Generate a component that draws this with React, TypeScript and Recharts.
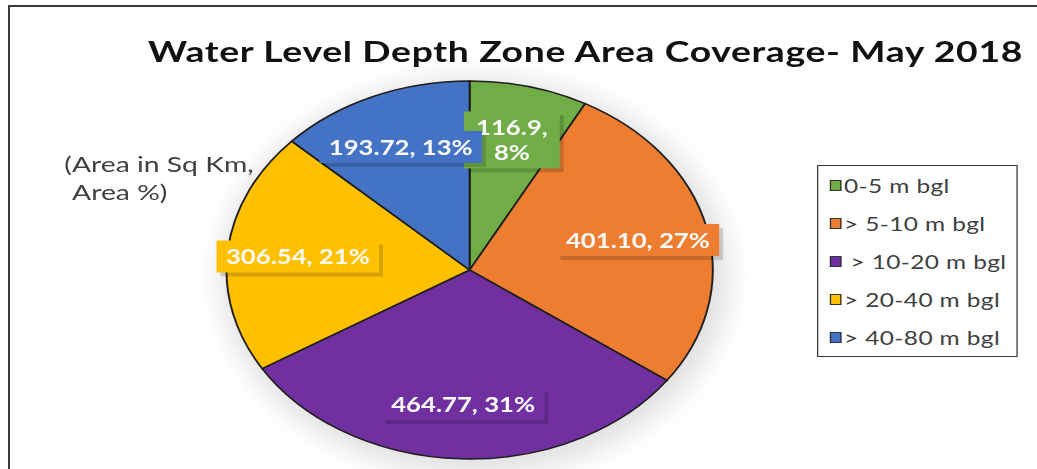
import React from "react";
import { PieChart, Pie, Legend } from "recharts";

// the source picture is stretched sideways, so the chart is drawn narrow and scaled back out
const STRETCH = 1037 / 806;
const RADIAN = Math.PI / 180;

const categories = [
  "0-5 m bgl",
  "> 5-10 m bgl",
  "> 10-20 m bgl",
  "> 20-40 m bgl",
  "> 40-80 m bgl",
];
const areaSqKm = [116.9, 401.1, 464.77, 306.54, 193.72];
const areaText = ["116.9", "401.10", "464.77", "306.54", "193.72"];
const colors = ["#70AD47", "#ED7D31", "#7030A0", "#FFC000", "#4472C4"];

const data = categories.map((name, i) => ({
  name,
  value: areaSqKm[i],
  fill: colors[i],
}));

const renderLabel = (props: any) => {
  const { cx, cy, midAngle, outerRadius, index, percent } = props;
  const r = outerRadius * 0.71;
  const x = cx + r * Math.cos(-midAngle * RADIAN);
  const y = cy + r * Math.sin(-midAngle * RADIAN);
  const pct = Math.round(percent * 100);
  // the thin green slice wraps its label onto two lines
  const lines =
    index === 0
      ? [`${areaText[index]},`, `${pct}%`]
      : [`${areaText[index]}, ${pct}%`];
  const longest = Math.max(...lines.map((l) => l.length));
  const w = longest * 10.4 + 12;
  const h = lines.length === 1 ? 32 : 57;
  const lineGap = 25;
  return (
    <g key={`lbl-${index}`}>
      <rect
        x={x - w / 2 + 3}
        y={y - h / 2 + 4}
        width={w}
        height={h}
        fill="rgba(0,0,0,0.16)"
      />
      <rect x={x - w / 2} y={y - h / 2} width={w} height={h} fill={colors[index]} />
      {lines.map((l, k) => (
        <text
          key={k}
          x={x}
          y={y + (k - (lines.length - 1) / 2) * lineGap}
          textAnchor="middle"
          dominantBaseline="central"
          fill="#fafafa"
          fontFamily="Lato, 'Open Sans', sans-serif"
          fontWeight={700}
          fontSize={20}
        >
          {l}
        </text>
      ))}
    </g>
  );
};

const renderLegend = (props: any) => {
  const payload = [...(props.payload || [])].sort(
    (a: any, b: any) => categories.indexOf(a.value) - categories.indexOf(b.value)
  );
  return (
    <div
      style={{
        border: "1.5px solid #3a3a3a",
        height: 192,
        boxSizing: "border-box",
        background: "#fff",
      }}
    >
      {payload.map((entry: any, i: number) => (
        <div
          key={i}
          style={{
            height: 38.2,
            display: "flex",
            alignItems: "center",
            paddingLeft: 9,
          }}
        >
          <span
            style={{
              width: 7,
              height: 9,
              background: entry.color,
              border: "1px solid #333",
              marginRight: 2,
              flex: "none",
            }}
          />
          <span
            style={{
              fontFamily: "Lato, 'Open Sans', sans-serif",
              fontSize: 19,
              letterSpacing: 0.3,
              color: "#404040",
              whiteSpace: "nowrap",
              marginLeft: i === 2 ? 5 : 0,
            }}
          >
            {entry.value}
          </span>
        </div>
      ))}
    </div>
  );
};

export default function App() {
  return (
    <div
      style={{
        position: "absolute",
        left: 0,
        top: 0,
        width: 1037,
        height: 469,
        overflow: "hidden",
        background: "#fff",
      }}
    >
      <div
        style={{
          position: "absolute",
          left: 8,
          top: 5,
          width: 1100,
          height: 500,
          borderTop: "2px solid #3a3a3a",
          borderLeft: "2px solid #3a3a3a",
        }}
      />
      <div
        style={{
          position: "absolute",
          left: 0,
          top: 0,
          width: 806,
          height: 469,
          transform: `scaleX(${STRETCH})`,
          transformOrigin: "0 0",
          fontFamily: "Lato, 'Open Sans', sans-serif",
        }}
      >
        {/* soft halo around the pie */}
        <div
          style={{
            position: "absolute",
            left: 365 - 189,
            top: 270 - 189,
            width: 378,
            height: 378,
            borderRadius: "50%",
            boxShadow: "4px 6px 24px 8px rgba(0,0,0,0.13)",
          }}
        />
        <div
          style={{
            position: "absolute",
            left: 115,
            top: 37,
            fontSize: 29,
            letterSpacing: 0.5,
            lineHeight: "28px",
            fontWeight: 700,
            color: "#111",
            whiteSpace: "nowrap",
          }}
        >
          Water Level Depth Zone Area Coverage- May 2018
        </div>
        <div
          style={{
            position: "absolute",
            left: 50,
            top: 150,
            fontSize: 22,
            lineHeight: "28px",
            color: "#404040",
            whiteSpace: "nowrap",
          }}
        >
          <div>(Area in Sq Km,</div>
          <div style={{ paddingLeft: 6 }}>Area %)</div>
        </div>
        <PieChart width={806} height={469} margin={{ top: 0, right: 0, bottom: 0, left: 0 }}>
          <Pie
            data={data}
            dataKey="value"
            nameKey="name"
            cx={365}
            cy={270}
            outerRadius={189}
            startAngle={90}
            endAngle={-270}
            stroke="#1e1e1e"
            strokeWidth={1.5}
            label={renderLabel}
            labelLine={false}
            isAnimationActive={false}
          />
          <Legend
            layout="vertical"
            align="right"
            verticalAlign="top"
            content={renderLegend}
            wrapperStyle={{ position: "absolute", left: 635, top: 165, width: 156 }}
          />
        </PieChart>
      </div>
    </div>
  );
}
